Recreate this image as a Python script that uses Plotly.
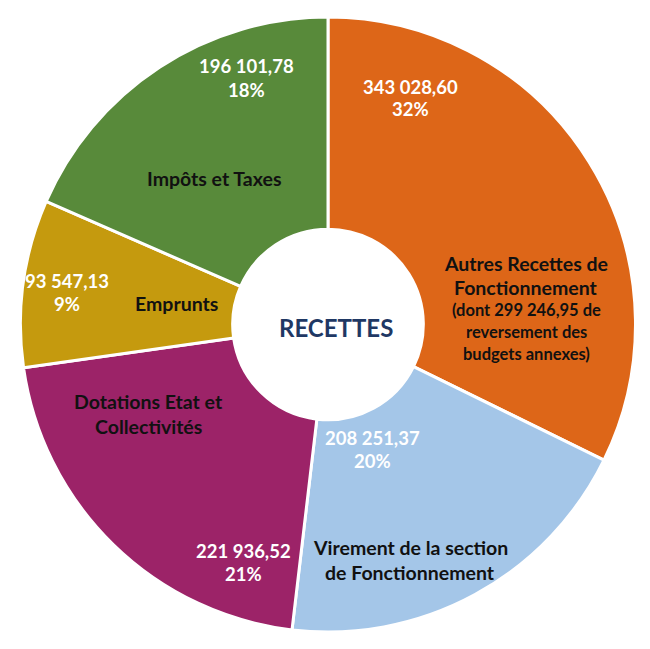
import plotly.graph_objects as go

categories = ["Autres Recettes de Fonctionnement", "Virement de la section de Fonctionnement",
              "Dotations Etat et Collectivités", "Emprunts", "Impôts et Taxes"]
values = [343028.60, 208251.37, 221936.52, 93547.13, 196101.78]
value_labels = ["343 028,60", "208 251,37", "221 936,52", "93 547,13", "196 101,78"]
pct_labels = ["32%", "20%", "21%", "9%", "18%"]
colors = ["#DD6618", "#A4C6E8", "#9C2368", "#C59A0E", "#588A3A"]

W, H = 650, 649

fig = go.Figure(go.Pie(
    labels=categories, values=values, sort=False, direction="clockwise", rotation=0,
    hole=0.31, textinfo="none", hoverinfo="label+value+percent",
    marker=dict(colors=colors, line=dict(color="white", width=3)),
    domain=dict(x=[20 / W, 636 / W], y=[1 - 632 / H, 1 - 17 / H]),
    showlegend=False,
))

FONT = "Lato"

def add_lines(cx, cy, lines, color, gap=24):
    n = len(lines)
    for i, (txt, sz) in enumerate(lines):
        y = cy + (i - (n - 1) / 2) * gap
        fig.add_annotation(x=cx / W, y=1 - y / H, xref="paper", yref="paper",
                           text="<b>%s</b>" % txt, showarrow=False,
                           font=dict(family=FONT, size=sz, color=color),
                           xanchor="center", yanchor="middle")

white = "white"
black = "#111111"
NS = 19.5
# value + percent blocks (pixel centers)
value_pos = [(410, 98), (372, 449), (243, 562), (67, 292), (246, 78)]
for (cx, cy), v, p in zip(value_pos, value_labels, pct_labels):
    add_lines(cx, cy, [(v, 18.5), (p, 18.5)], white, gap=23)

# category name blocks
add_lines(526, 263, [("Autres Recettes de", NS)], black)
add_lines(526, 287, [("Fonctionnement", NS)], black)
add_lines(526, 332, [("(dont 299 246,95 de", 16.5), ("reversement des", 16.5), ("budgets annexes)", 16.5)], black, gap=22)
add_lines(410, 560, [("Virement de la section", NS), ("de Fonctionnement", NS)], black, gap=25)
add_lines(148, 414, [("Dotations Etat et", NS), ("Collectivités", NS)], black, gap=25)
add_lines(176, 304, [("Emprunts", NS)], black)
add_lines(214, 178, [("Impôts et Taxes", NS)], black)

fig.add_annotation(x=336 / W, y=1 - 327 / H, xref="paper", yref="paper",
                   text="<b>RECETTES</b>", showarrow=False,
                   font=dict(family=FONT, size=24, color="#1F3864"))

fig.update_layout(width=W, height=H, margin=dict(l=0, r=0, t=0, b=0),
                  paper_bgcolor="white", plot_bgcolor="white")

fig.write_html("out.html", config={"displayModeBar": False},
               post_script="document.body.style.margin='0';")
